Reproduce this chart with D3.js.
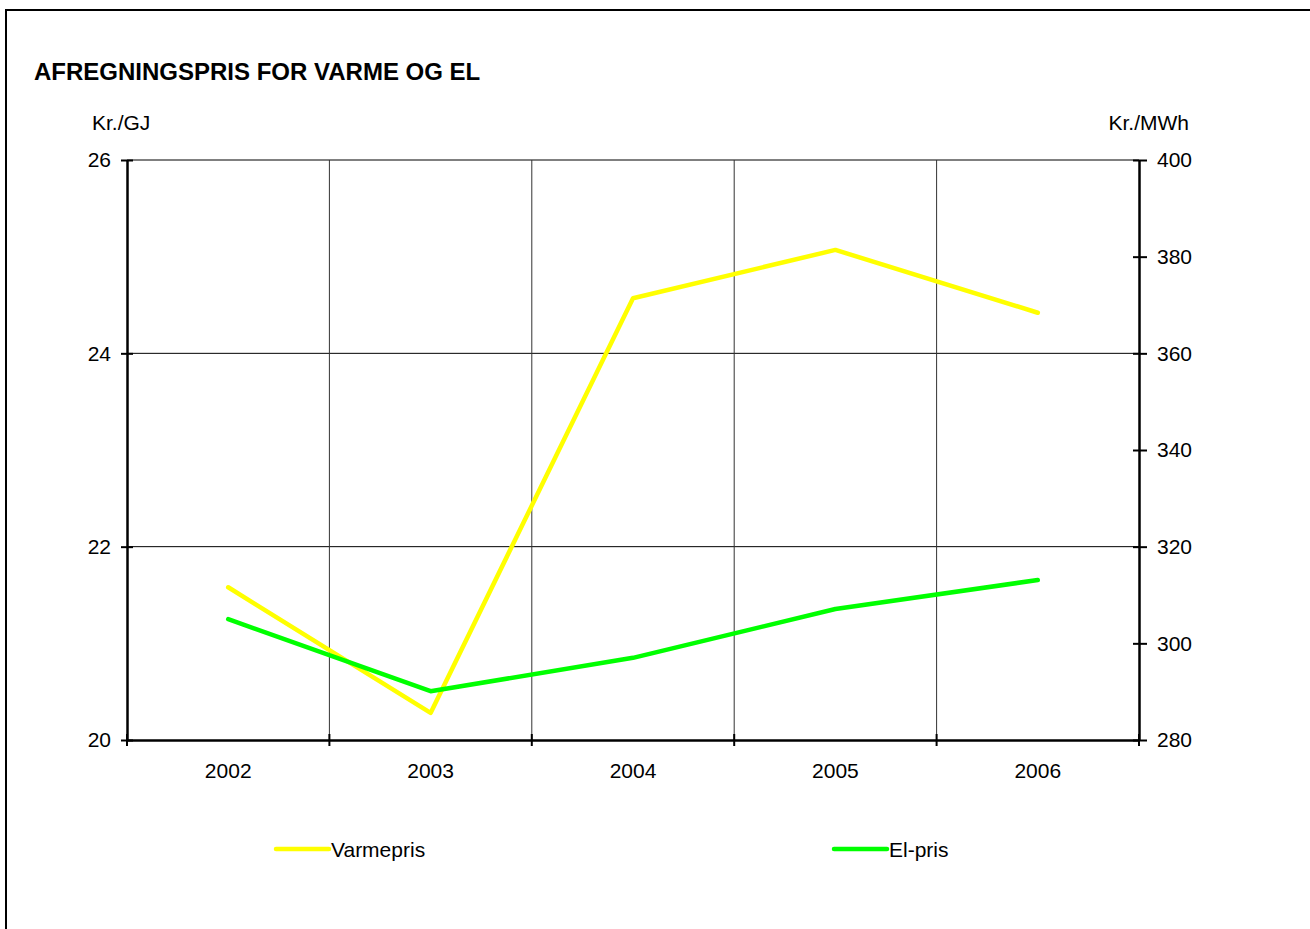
<!DOCTYPE html>
<html><head><meta charset="utf-8">
<script src="https://cdn.jsdelivr.net/npm/d3@7"></script>
<style>body{margin:0;background:#fff;}svg{display:block;font-family:"Liberation Sans",Arial,sans-serif;}</style>
</head><body>
<svg id="c" width="1310" height="929"></svg>
<script>
const years = ["2002","2003","2004","2005","2006"];
const varmepris = [21.58, 20.28, 24.57, 25.07, 24.42];
const elpris = [305.0, 290.1, 297.0, 307.1, 313.1];
const leftTicks = [20, 22, 24, 26];
const rightTicks = [280, 300, 320, 340, 360, 380, 400];

const FS = 21;
const svg = d3.select("#c");
// frame
svg.append("path").attr("d","M6,935 L6,10 L1316,10").attr("fill","none").attr("stroke","#000").attr("stroke-width",2);

const L=127, R=1139, T=160, B=740;
const x = d3.scaleBand().domain(years).range([L,R]);
const yL = d3.scaleLinear().domain([20,26]).range([B,T]);
const yR = d3.scaleLinear().domain([280,400]).range([B,T]);

// title
svg.append("text").attr("x",34).attr("y",80).attr("font-size",24).attr("font-weight","bold").text("AFREGNINGSPRIS FOR VARME OG EL");
svg.append("text").attr("x",92).attr("y",130).attr("font-size",FS).text("Kr./GJ");
svg.append("text").attr("x",1189).attr("y",130).attr("font-size",FS).attr("text-anchor","end").text("Kr./MWh");

// gridlines
const g = svg.append("g");
leftTicks.filter(v=>v>20).forEach(v=>{
  g.append("line").attr("x1",L).attr("x2",R).attr("y1",yL(v)).attr("y2",yL(v)).attr("stroke","#000").attr("stroke-width",1);
});
years.slice(1).forEach(yr=>{
  g.append("line").attr("x1",x(yr)).attr("x2",x(yr)).attr("y1",T).attr("y2",B).attr("stroke","#333").attr("stroke-width",1);
});

// axes
const axL = svg.append("g").attr("transform",`translate(${L},0)`).call(d3.axisLeft(yL).tickValues(leftTicks).tickFormat(d3.format("d")).tickSize(6).tickSizeOuter(0));
const axR = svg.append("g").attr("transform",`translate(${R},0)`).call(d3.axisRight(yR).tickValues(rightTicks).tickFormat(d3.format("d")).tickSize(8).tickSizeOuter(0));
const axB = svg.append("g").attr("transform",`translate(0,${B})`).call(d3.axisBottom(x).tickSize(0).tickSizeOuter(0));
[axL,axR,axB].forEach(a=>{
  a.attr("font-size",FS).attr("font-family","'Liberation Sans',Arial,sans-serif");
  a.select(".domain").attr("stroke","#000").attr("stroke-width",2.5);
  a.selectAll("text").attr("font-size",FS).attr("fill","#000");
});
axL.selectAll(".tick line").attr("x2",-6).attr("x1",6).attr("stroke-width",2);
axL.selectAll(".tick text").attr("x",-16);
axR.selectAll(".tick line").attr("x1",-6).attr("x2",8).attr("stroke-width",2);
axR.selectAll(".tick text").attr("x",18);
axB.selectAll(".tick text").attr("dy","0").attr("y",38);
// category boundary ticks on bottom axis
const bounds = years.map(yr=>x(yr)).concat([R]);
bounds.forEach(bx=>{
  svg.append("line").attr("x1",bx).attr("x2",bx).attr("y1",B-6).attr("y2",B+6).attr("stroke","#000").attr("stroke-width",2);
});

// lines
const lineL = d3.line().x((d,i)=>x(years[i])+x.bandwidth()/2).y(d=>yL(d));
const lineR = d3.line().x((d,i)=>x(years[i])+x.bandwidth()/2).y(d=>yR(d));
svg.append("path").datum(varmepris).attr("d",lineL).attr("fill","none").attr("stroke","#ffff00").attr("stroke-width",4.5).attr("stroke-linecap","round").attr("stroke-linejoin","round");
svg.append("path").datum(elpris).attr("d",lineR).attr("fill","none").attr("stroke","#00ff00").attr("stroke-width",4.5).attr("stroke-linecap","round").attr("stroke-linejoin","round");

// legend
const leg = [{name:"Varmepris",color:"#ffff00",x:275},{name:"El-pris",color:"#00ff00",x:833}];
leg.forEach(l=>{
  svg.append("line").attr("x1",l.x+1).attr("x2",l.x+54).attr("y1",849).attr("y2",849).attr("stroke",l.color).attr("stroke-width",4.5).attr("stroke-linecap","round");
  svg.append("text").attr("x",l.x+56).attr("y",857).attr("font-size",FS).text(l.name);
});
</script>
</body></html>
